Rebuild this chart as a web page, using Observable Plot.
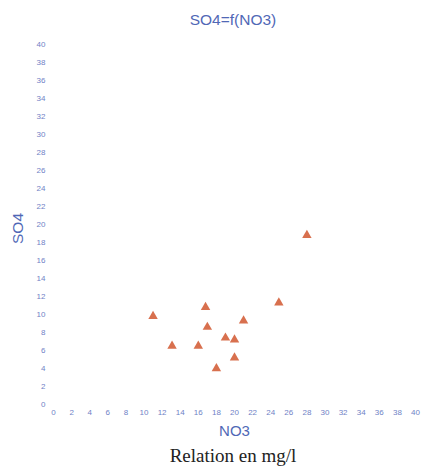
<!DOCTYPE html>
<html>
<head>
<meta charset="utf-8">
<script src="https://cdn.jsdelivr.net/npm/d3@7"></script>
<script src="https://cdn.jsdelivr.net/npm/@observablehq/plot@0.6"></script>
<style>
  html, body { margin: 0; padding: 0; background: #fff; }
  #wrap { width: 422px; }
  .title { box-sizing: border-box; height: 30px; padding-top: 5px; line-height: 30px;
           text-align: center; padding-left: 44px; overflow: visible;
           font-family: "Liberation Sans", Arial, sans-serif; font-size: 15.5px; color: #5068b6; }
  .caption { text-align: center; padding-left: 44px; margin-top: 5px; line-height: 22px;
             font-family: "Liberation Serif", "Times New Roman", serif; font-size: 19px; color: #222; }
</style>
</head>
<body>
<div id="wrap">
  <div class="title">SO4=f(NO3)</div>
  <div id="chart"></div>
  <div class="caption">Relation en mg/l</div>
</div>
<script>
// Nitrate (NO3) and sulfate (SO4) concentrations, mg/l
const no3 = [11.0, 13.1, 16.8, 17.0, 16.0, 18.0, 19.0, 20.0, 20.0, 21.0, 24.9, 28.0];
const so4 = [9.8, 6.5, 10.8, 8.6, 6.5, 4.0, 7.4, 7.2, 5.2, 9.3, 11.3, 18.8];

// Axis ticks, every 2 mg/l from 0 to 40
const ticks = d3.range(0, 41, 2);

const points = no3.map((x, i) => ({no3: x, so4: so4[i]}));

const blue = "#5068b6";
const tickBlue = "#6f82c6";

const chart = Plot.plot({
  width: 422,
  height: 410,
  marginLeft: 53,
  marginRight: 7,
  marginTop: 14,
  marginBottom: 36,
  style: {fontFamily: "'Liberation Sans', Arial, sans-serif", background: "#fff"},
  x: {domain: [0, 40]},
  y: {domain: [0, 40]},
  marks: [
    Plot.axisX({ticks, tickSize: 0, tickPadding: 5, fontSize: 8, color: tickBlue, label: null}),
    Plot.axisY({ticks, tickSize: 0, tickPadding: 8, fontSize: 8, color: tickBlue, label: null}),
    Plot.text(["NO3"], {frameAnchor: "bottom", dy: 31, fontSize: 15, fill: blue}),
    Plot.text(["SO4"], {frameAnchor: "left", textAnchor: "middle", dx: -35, dy: 4, rotate: -90, fontSize: 15.5, fill: blue}),
    Plot.dot(points, {x: "no3", y: "so4", symbol: "triangle", r: 3.5, fill: "#d8704e", stroke: "none"})
  ]
});
document.getElementById("chart").append(chart);
</script>
</body>
</html>
